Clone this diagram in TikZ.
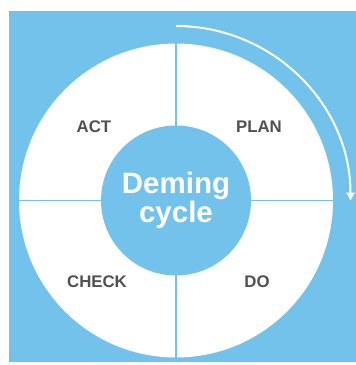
\documentclass[tikz,border=0pt]{standalone}
\usepackage{fontspec}
\setmainfont{Liberation Sans}
\usetikzlibrary{arrows.meta,calc}
\definecolor{demingblue}{HTML}{73C2EB}
\definecolor{phasegray}{HTML}{505052}

\begin{document}
\begin{tikzpicture}[x=1pt,y=-1pt,
    wheel/.style={circle,fill=white,minimum size=314pt,inner sep=0pt},
    hub/.style={circle,fill=demingblue,minimum size=150pt,inner sep=0pt,
        text=white,align=center,font=\bfseries\fontsize{29.5}{27.5}\selectfont},
    divider/.style={demingblue,line width=1.2pt},
    phase/.style={text=phasegray,font=\bfseries\fontsize{16.8}{18}\selectfont},
    turn/.style={white,line width=2pt,-{Triangle[width=8pt,length=8pt]}}
]

\useasboundingbox (0,0) rectangle (356,365);

% =========================
% Background
% =========================
\fill[demingblue] (9,11) rectangle (356,362);

% =========================
% Wheel and quarters
% =========================
\node[wheel] (wheel) at (176,200.5) {};
\draw[divider] (wheel.north) -- (wheel.south);
\draw[divider] (wheel.west) -- (wheel.east);

% centre
\node[hub] (hub) at (wheel.center) {Deming\\cycle};

% phases
\node[phase] (plan)  at (259,127) {PLAN};
\node[phase] (do)    at (257,282) {DO};
\node[phase] (check) at (97,282)  {CHECK};
\node[phase] (act)   at (94,127)  {ACT};

% =========================
% Direction arrow
% =========================
\coordinate (turnstart) at ($(wheel.center)+(0,-174.5)$);
\draw[turn] (turnstart) arc[start angle=90,end angle=0,radius=174.5pt];

\end{tikzpicture}
\end{document}
